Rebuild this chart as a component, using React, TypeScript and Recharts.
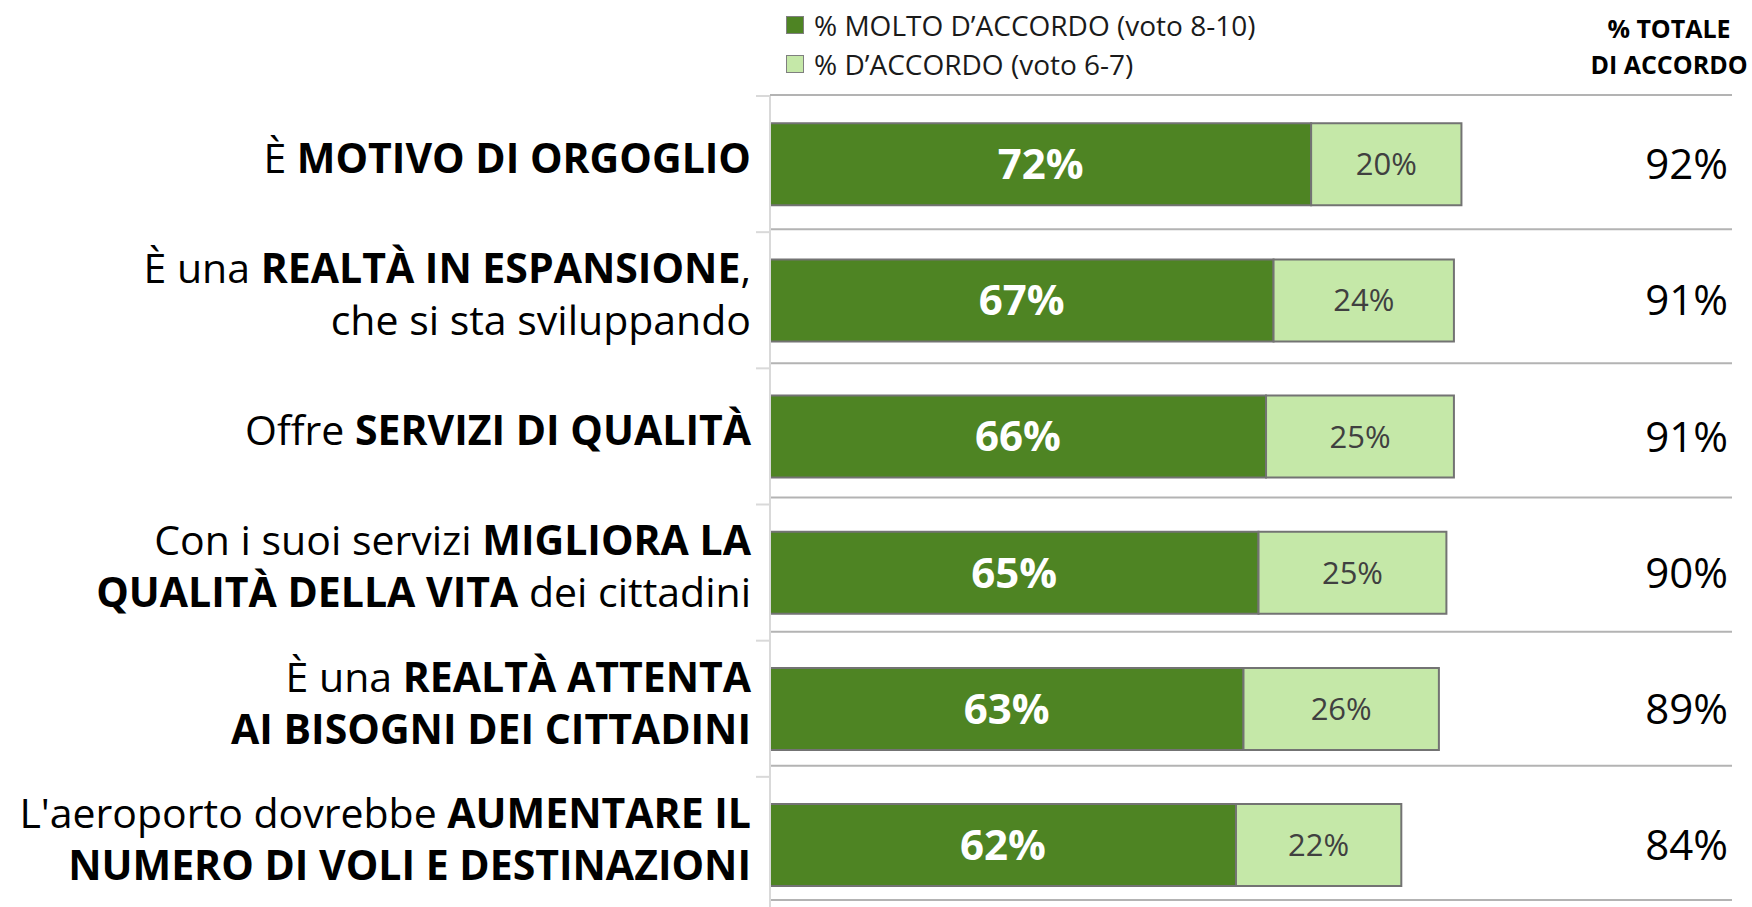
import React from 'react';
import { BarChart, Bar, XAxis, YAxis, CartesianGrid, Legend, LabelList } from 'recharts';

type Seg = [string, boolean];

const categories: string[] = [
  'È MOTIVO DI ORGOGLIO',
  'È una REALTÀ IN ESPANSIONE, che si sta sviluppando',
  'Offre SERVIZI DI QUALITÀ',
  'Con i suoi servizi MIGLIORA LA QUALITÀ DELLA VITA dei cittadini',
  'È una REALTÀ ATTENTA AI BISOGNI DEI CITTADINI',
  "L'aeroporto dovrebbe AUMENTARE IL NUMERO DI VOLI E DESTINAZIONI",
];

const categoryLines: Seg[][][] = [
  [[['È ', false], ['MOTIVO DI ORGOGLIO', true]]],
  [[['È una ', false], ['REALTÀ IN ESPANSIONE', true], [',', false]], [['che si sta sviluppando', false]]],
  [[['Offre ', false], ['SERVIZI DI QUALITÀ', true]]],
  [[['Con i suoi servizi ', false], ['MIGLIORA LA', true]], [['QUALITÀ DELLA VITA', true], [' dei cittadini', false]]],
  [[['È una ', false], ['REALTÀ ATTENTA', true]], [['AI BISOGNI DEI CITTADINI', true]]],
  [[["L'aeroporto dovrebbe ", false], ['AUMENTARE IL', true]], [['NUMERO DI VOLI E DESTINAZIONI', true]]],
];

const moltoAccordo: number[] = [72, 67, 66, 65, 63, 62];
const accordo: number[] = [20, 24, 25, 25, 26, 22];
const totaleAccordo: number[] = [92, 91, 91, 90, 89, 84];

const seriesNames: string[] = ['% MOLTO D’ACCORDO (voto 8-10)', '% D’ACCORDO (voto 6-7)'];
const seriesColors: string[] = ['#4E8423', '#C5E8A8'];
const headerLines: string[] = ['% TOTALE', 'DI ACCORDO'];
const rowTicks: number[] = [0, 1, 2, 3, 4, 5, 6];

const data = categories.map((name, i) => ({
  name,
  molto: moltoAccordo[i],
  accordo: accordo[i],
}));

const FONT = '"Open Sans", sans-serif';
const TICK_MARGIN = 19;
const TICK_MARK = 14;
const TABLE_BOTTOM_PAD = 7;

const CategoryTick = (props: any) => {
  const { x, y } = props;
  const index = props.index ?? props.payload?.index ?? 0;
  const half = props.payload?.offset ?? 0;
  const lines = categoryLines[index] || [];
  const lh = 52;
  const cy = y - 6;
  const start = -((lines.length - 1) * lh) / 2;
  const axisX = x + TICK_MARGIN;
  return (
    <g>
      <line
        x1={axisX - TICK_MARK}
        x2={axisX}
        y1={y - half}
        y2={y - half}
        stroke="#d9d9d9"
        strokeWidth={2}
      />
      <text x={x} y={cy} textAnchor="end" fontSize={41} fill="#000" fontFamily={FONT}>
        {lines.map((segs, li) => (
          <tspan key={li} x={x} y={cy + start + li * lh} dy="0.36em">
            {segs.map(([t, b], si) => (
              <tspan key={si} fontWeight={b ? 700 : 400}>{t}</tspan>
            ))}
          </tspan>
        ))}
      </text>
    </g>
  );
};

const TotalTick = (props: any) => {
  const { x, y } = props;
  const index = props.index ?? props.payload?.index ?? 0;
  return (
    <text x={x} y={y} dy="0.36em" textAnchor="end" fontSize={42} fill="#000" fontFamily={FONT}>
      {`${totaleAccordo[index]}%`}
    </text>
  );
};

const renderLegend = () => (
  <div style={{ position: 'relative', width: 1752, height: 0, overflow: 'visible', fontFamily: FONT }}>
    {seriesNames.map((n, i) => (
      <div
        key={n}
        style={{
          position: 'absolute',
          left: 786,
          top: 5 + i * 39,
          height: 40,
          display: 'flex',
          alignItems: 'center',
          whiteSpace: 'nowrap',
        }}
      >
        <span
          style={{
            width: 16,
            height: 16,
            background: seriesColors[i],
            border: '1.5px solid #7f7f7f',
            display: 'inline-block',
            marginRight: 10,
          }}
        />
        <span style={{ fontSize: 28, color: '#1a1a1a', lineHeight: '40px' }}>{n}</span>
      </div>
    ))}
    <div
      style={{
        position: 'absolute',
        left: 1669 - 120,
        width: 240,
        top: 10,
        textAlign: 'center',
        fontWeight: 700,
        fontSize: 25,
        lineHeight: '36px',
        color: '#000',
        whiteSpace: 'nowrap',
      }}
    >
      {headerLines.map((l) => (
        <div key={l}>{l}</div>
      ))}
    </div>
  </div>
);

const rowLines = (props: any) => {
  const { offset, height } = props;
  const top = offset.top - 1;
  const rowH = (height - TABLE_BOTTOM_PAD - top) / (rowTicks.length - 1);
  return rowTicks.map((t) => top + t * rowH);
};

export default function App() {
  return (
    <div style={{ position: 'absolute', left: 0, top: 0, fontFamily: FONT, background: '#fff' }}>
      <BarChart
        width={1752}
        height={907}
        data={data}
        layout="vertical"
        margin={{ top: 96, right: 20, bottom: -6, left: 0 }}
        barCategoryGap="20%"
      >
        <CartesianGrid
          vertical={false}
          horizontal
          horizontalCoordinatesGenerator={rowLines}
          stroke="#b3b3b3"
          strokeWidth={2}
        />
        <XAxis type="number" domain={[0, 128]} hide />
        <YAxis
          yAxisId="bCategory"
          type="category"
          dataKey="name"
          width={770}
          tick={<CategoryTick />}
          tickLine={false}
          axisLine={{ stroke: '#d9d9d9', strokeWidth: 2 }}
          tickSize={0}
          tickMargin={TICK_MARGIN}
          interval={0}
        />
        <YAxis
          yAxisId="cTotals"
          orientation="right"
          type="category"
          dataKey="name"
          mirror
          width={200}
          tick={<TotalTick />}
          tickLine={false}
          axisLine={false}
          tickSize={0}
          tickMargin={4}
          interval={0}
        />
        <Legend
          layout="vertical"
          align="center"
          verticalAlign="top"
          content={renderLegend}
          wrapperStyle={{ left: 0, top: 0, width: 1752, height: 0, overflow: 'visible' }}
        />
        <Bar
          dataKey="molto"
          name={seriesNames[0]}
          stackId="s"
          yAxisId="bCategory"
          fill={seriesColors[0]}
          stroke="#737373"
          strokeWidth={2}
          isAnimationActive={false}
        >
          <LabelList
            dataKey="molto"
            position="center"
            formatter={(v: any) => `${v}%`}
            fill="#ffffff"
            fontSize={42}
            fontWeight={700}
            fontFamily={FONT}
          />
        </Bar>
        <Bar
          dataKey="accordo"
          name={seriesNames[1]}
          stackId="s"
          yAxisId="bCategory"
          fill={seriesColors[1]}
          stroke="#737373"
          strokeWidth={2}
          isAnimationActive={false}
        >
          <LabelList
            dataKey="accordo"
            position="center"
            formatter={(v: any) => `${v}%`}
            fill="#404040"
            fontSize={31}
            fontFamily={FONT}
          />
        </Bar>
      </BarChart>
    </div>
  );
}
